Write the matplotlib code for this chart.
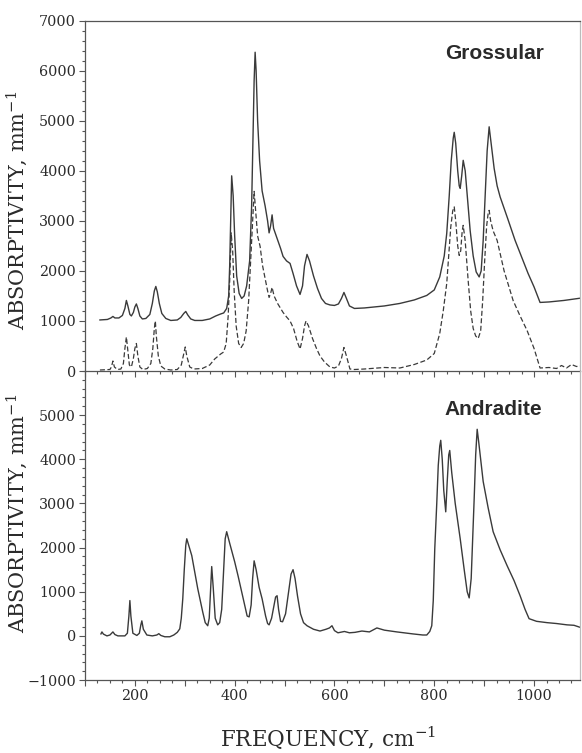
import numpy as np
import matplotlib
matplotlib.use("Agg")
import matplotlib.pyplot as plt
from matplotlib.ticker import MultipleLocator, FixedLocator

plt.rcParams['font.family'] = 'DejaVu Serif'
plt.rcParams['mathtext.fontset'] = 'dejavuserif'

# Grossular, upper trace (offset by +1000 in the original figure)
gro_top_f = [130, 145, 152, 156, 160, 168, 175, 180, 183, 186, 190, 193, 197, 200, 203, 206, 210, 215,
             222, 230, 235, 239, 242, 245, 249, 254, 262, 272, 285, 292, 298, 302, 306, 312, 320, 335,
             350, 362, 372, 378, 384, 388, 390, 392, 394, 397, 400, 404, 409, 414, 419, 424, 430, 434,
             437, 439, 441, 443, 446, 450, 455, 461, 466, 469, 472, 475, 478, 485, 492, 497, 504, 511,
             517, 524, 531, 536, 540, 545, 550, 558, 566, 574, 582, 591, 600, 608, 614, 619, 624, 630,
             640, 660, 700, 731, 760, 785, 800, 811, 820, 825, 830, 834, 838, 840, 843, 847, 850, 852,
             855, 858, 862, 867, 872, 878, 884, 890, 894, 898, 902, 906, 910, 914, 920, 926, 932, 947,
             962, 975, 988, 1000, 1012, 1030, 1060, 1096]
gro_top_v = [1020, 1030, 1060, 1090, 1060, 1060, 1110, 1250, 1410, 1300, 1130, 1100, 1170, 1280, 1340,
             1250, 1100, 1040, 1050, 1130, 1350, 1600, 1690, 1580, 1350, 1150, 1050, 1010, 1020, 1070,
             1150, 1190, 1120, 1040, 1010, 1010, 1040, 1100, 1140, 1160, 1250, 1500, 2100, 3000, 3900,
             3500, 2700, 1900, 1550, 1450, 1500, 1700, 2200, 3300, 4800, 5800, 6370, 6000, 5000, 4200,
             3600, 3300, 3000, 2760, 2900, 3120, 2850, 2650, 2450, 2290, 2200, 2150, 1950, 1700, 1530,
             1700, 2100, 2330, 2200, 1900, 1650, 1450, 1350, 1320, 1310, 1340, 1450, 1570, 1450, 1300,
             1250, 1260, 1300, 1350, 1420, 1510, 1620, 1880, 2300, 2750, 3500, 4200, 4650, 4770, 4550,
             4000, 3700, 3650, 3900, 4210, 4000, 3400, 2800, 2300, 1980, 1880, 2000, 2600, 3500, 4400,
             4880, 4550, 4050, 3700, 3480, 3050, 2610, 2280, 1950, 1680, 1370, 1380, 1410, 1460]

# Grossular, lower (dashed) trace
gro_low_f = [130, 150, 153, 156, 159, 165, 172, 177, 180, 183, 186, 189, 193, 197, 200, 203, 206, 210,
             216, 225, 232, 236, 239, 241, 243, 247, 252, 260, 272, 285, 293, 298, 301, 304, 310, 318,
             335, 350, 360, 372, 378, 383, 387, 390, 393, 396, 399, 403, 408, 413, 418, 423, 428, 432,
             436, 439, 442, 446, 451, 456, 462, 466, 469, 472, 475, 479, 486, 492, 497, 504, 511, 518,
             525, 531, 536, 540, 543, 548, 556, 564, 571, 580, 591, 600, 608, 614, 619, 624, 631, 640,
             660, 700, 731, 760, 785, 800, 811, 818, 825, 829, 833, 837, 840, 843, 847, 850, 853, 856,
             858, 862, 868, 873, 878, 883, 888, 893, 897, 901, 905, 908, 910, 913, 918, 926, 940, 958,
             972, 986, 1000, 1012, 1030, 1045, 1055, 1065, 1075, 1085, 1096]
gro_low_v = [20, 30, 80, 200, 80, 30, 40, 150, 450, 680, 400, 120, 80, 250, 450, 550, 300, 80, 30, 50,
             150, 450, 850, 1000, 700, 300, 100, 40, 20, 30, 120, 350, 480, 300, 80, 40, 50, 120, 240,
             340, 380, 550, 1100, 1800, 2760, 2400, 1600, 900, 550, 470, 550, 800, 1400, 2200, 3000,
             3590, 3200, 2700, 2490, 2100, 1800, 1600, 1470, 1550, 1670, 1500, 1350, 1250, 1170, 1080,
             1000, 850, 600, 440, 650, 900, 1000, 900, 650, 450, 300, 180, 80, 60, 100, 250, 470, 300,
             40, 30, 40, 70, 60, 130, 220, 350, 750, 1200, 1750, 2300, 2870, 3200, 3280, 3000, 2500,
             2310, 2400, 2800, 2910, 2600, 1800, 1200, 850, 700, 650, 800, 1400, 2200, 2900, 3150, 3210,
             3000, 2800, 2610, 2000, 1410, 1100, 810, 450, 60, 70, 50, 110, 60, 130, 90, 100]

# Andradite
and_f = [132, 134, 137, 144, 150, 156, 160, 166, 180, 185, 188, 190, 192, 196, 204, 209, 212, 214, 217,
         224, 235, 244, 248, 252, 260, 270, 278, 285, 290, 293, 296, 299, 302, 304, 308, 314, 320, 326,
         331, 336, 341, 346, 349, 352, 354, 357, 361, 366, 370, 374, 378, 381, 384, 390, 400, 407, 414,
         420, 425, 429, 433, 436, 439, 443, 449, 455, 462, 466, 469, 474, 479, 482, 485, 488, 492, 496,
         502, 508, 513, 517, 521, 526, 532, 538, 545, 558, 571, 583, 590, 595, 600, 607, 620, 630, 641,
         655, 670, 685, 700, 725, 757, 777, 785, 791, 795, 798, 801, 805, 808, 811, 813, 816, 819, 823,
         826, 829, 831, 835, 842, 852, 860, 866, 870, 874, 877, 880, 883, 886, 889, 893, 898, 908, 918,
         932, 946, 960, 972, 982, 990, 1005, 1026, 1045, 1066, 1080, 1096]
and_v = [45, 90, 40, 0, 20, 90, 30, 0, 0, 60, 450, 800, 450, 60, 10, 60, 250, 340, 150, 20, 0, 20, 50,
         10, -20, -20, 20, 80, 160, 400, 840, 1500, 2050, 2200, 2050, 1820, 1450, 1070, 800, 540, 300,
         230, 400, 1100, 1570, 1100, 400, 250, 300, 600, 1500, 2200, 2360, 2100, 1680, 1350, 1000, 700,
         450, 430, 700, 1300, 1700, 1500, 1100, 840, 450, 280, 250, 400, 700, 880, 910, 600, 330, 320,
         500, 1000, 1400, 1500, 1300, 900, 500, 300, 230, 150, 110, 150, 180, 230, 120, 70, 100, 70, 80,
         110, 90, 180, 130, 90, 45, 20, 20, 100, 230, 800, 1970, 3000, 3860, 4300, 4430, 4000, 3300,
         2810, 3500, 4100, 4200, 3700, 3000, 2200, 1500, 1000, 860, 1300, 2200, 3110, 4100, 4680, 4400,
         4000, 3500, 2900, 2360, 1950, 1590, 1250, 910, 600, 390, 330, 300, 280, 250, 240, 180]

ink = '#3a3a3a'
fig = plt.figure(figsize=(5.82, 7.53), dpi=100)
ax1 = fig.add_axes([0.146, 0.5073, 0.8505, 0.4652])
ax2 = fig.add_axes([0.146, 0.0969, 0.8505, 0.4104])
ax2.patch.set_alpha(0)

ax1.plot(gro_top_f, gro_top_v, color=ink, lw=1.0)
ax1.plot(gro_low_f, gro_low_v, color=ink, lw=0.9, dashes=(4, 2))
ax2.plot(and_f, and_v, color=ink, lw=1.0)

ax1.set_ylim(0, 7000)
ax2.set_ylim(-1000, 6000)
for ax in (ax1, ax2):
    ax.set_xlim(100, 1092)
    ax.xaxis.set_major_locator(MultipleLocator(100))
    ax.xaxis.set_minor_locator(MultipleLocator(25))
    ax.yaxis.set_minor_locator(MultipleLocator(200))
    ax.tick_params(which='both', direction='out', colors='#555555', labelcolor='#2a2a2a',
                   labelsize=10.3, width=0.8, top=False, right=False)
    ax.tick_params(which='major', length=4.5, pad=2)
    ax.tick_params(which='minor', length=2.2)
    for s in ax.spines.values():
        s.set_color('#555555')
        s.set_linewidth(0.9)
    ax.spines['right'].set_color('#bbbbbb')
    ax.set_ylabel('ABSORPTIVITY, mm$^{-1}$', fontsize=15, color='#2a2a2a')

ax1.yaxis.set_major_locator(MultipleLocator(1000))
ax1.tick_params(axis='x', labelbottom=False)
ax2.yaxis.set_major_locator(FixedLocator([-1000, 0, 1000, 2000, 3000, 4000, 5000]))
ax2.xaxis.set_major_formatter(plt.FuncFormatter(lambda v, p: f'{int(v)}' if v % 200 == 0 else ''))
ax2.spines['top'].set_visible(False)

ax1.yaxis.set_label_coords(-0.112, 0.46)
ax2.yaxis.set_label_coords(-0.112, 0.54)

ax1.text(920, 6350, 'Grossular', family='Liberation Sans', weight='bold', fontsize=15,
         color='#2a2a2a', ha='center', va='center')
ax2.text(918, 5120, 'Andradite', family='Liberation Sans', weight='bold', fontsize=15,
         color='#2a2a2a', ha='center', va='center')

fig.text(0.564, 0.02, 'FREQUENCY, cm$^{-1}$', fontsize=15.5, color='#2a2a2a', ha='center', va='center')

fig.savefig('out.png', dpi=100)
